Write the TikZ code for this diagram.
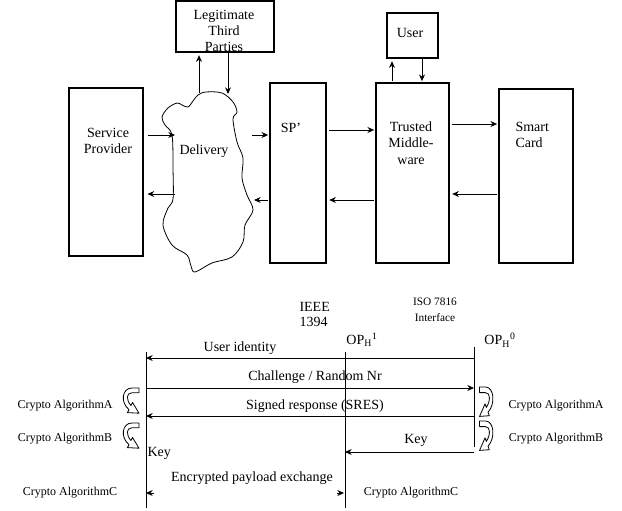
\documentclass[tikz,border=0pt]{standalone}
\usepackage{fontspec}
\setmainfont{Liberation Serif}
\usetikzlibrary{arrows.meta,fit,calc}
\begin{document}
\begin{tikzpicture}[x=0.75pt,y=-0.75pt,
  line width=0.75pt,
  box/.style={draw, line width=0.8pt, inner sep=0pt},
  arr/.style={-{Stealth[length=5pt,width=4.5pt]}, line width=0.7pt},
  lbl/.style={font=\fontsize{10.5}{12}\selectfont, inner sep=0pt, align=center},
  sml/.style={font=\fontsize{9}{11}\selectfont, inner sep=0pt, align=center},
  curvarrow/.pic={\draw[line width=0.6pt, line join=round] (17,0) -- (10,0) .. controls (0,0) and (-2,12) .. (7,18) -- (5.5,20.5) -- (17,21) -- (10.5,12) -- (9,14.6) .. controls (4,10) and (4,4) .. (10,4) -- (17,4) -- cycle;}]
\useasboundingbox (0,0) rectangle (622,511);

% ---------- top: boxes ----------
\node[box, fit={(69,88)(143,256)}] (sp) {};
\node[box, fit={(176,1)(274,52)}] (ltp) {};
\node[box, fit={(270,83)(326,263)}] (spp) {};
\node[box, fit={(376,83)(449,263)}] (tm) {};
\node[box, fit={(387,13)(438,58)}] (user) {};
\node[box, fit={(499,89)(573,263)}] (sc) {};

% delivery cloud
\draw[line width=0.6pt] plot[smooth cycle, tension=0.55] coordinates {
 (198,95) (206,92) (222,93) (233,102) (237,112) (233,119) (237,142) (243,158)
 (242,178) (247,195) (253,210) (245,225) (243,242) (232,257) (212,263) (195,272)
 (191,266) (187,255) (172,245) (163,225) (168,208) (173,199) (173,168) (172,135)
 (165,125) (162,117) (168,108) (177,103) (182,105) (188,107) (193,101)};

% texts
\node[lbl] (spt) at (108,141) {Service\\Provider};
\node[lbl, font=\fontsize{10.5}{12}\selectfont] (ltpt) at (224,31) {Legitimate\\Third\\Parties};
\node[lbl] (delt) at (204,151) {Delivery};
\node[lbl] (sppt) at (291,128) {SP’};
\node[lbl, font=\fontsize{10.5}{12.4}\selectfont] (tmt) at (411,143) {Trusted\\Middle-\\ware};
\node[lbl] (usert) at (410,33) {User};
\node[lbl, align=left, anchor=west] (sct) at (515,135) {Smart\\Card};

% cloud anchor points
\coordinate (dIn) at (175,135);
\coordinate (dOut) at (175,194);
\coordinate (dR1) at (252,135);
\coordinate (dR2) at (254,200);
\coordinate (dT1) at (199,93);
\coordinate (dT2) at (228,94);

% top arrows
\draw[arr, shorten <=3pt] (sp.east |- dIn) -- (dIn);
\draw[arr, shorten >=3pt] (dOut) -- (sp.east |- dOut);
\draw[arr, shorten >=1pt] (dR1) -- (spp.west |- dR1);
\draw[arr, shorten <=1pt] (spp.west |- dR2) -- (dR2);
\draw[arr, shorten >=2pt] (dT1) -- (dT1 |- ltp.south);
\draw[arr] (dT2 |- ltp.south) -- (dT2);
\draw[arr, shorten <=2pt, shorten >=1pt] (spp.east |- 0,130) -- (tm.west |- 0,130);
\draw[arr, shorten <=1pt, shorten >=2pt] (tm.west |- 0,200) -- (spp.east |- 0,200);
\draw[arr, shorten <=1pt, shorten >=2pt] (tm.north -| 392,0) -- (user.south -| 392,0);
\draw[arr, shorten >=1pt] (user.south -| 422,0) -- (tm.north -| 422,0);
\draw[arr, shorten <=2pt, shorten >=1pt] (tm.east |- 0,124) -- (sc.west |- 0,124);
\draw[arr, shorten <=1pt, shorten >=2pt] (sc.west |- 0,194) -- (tm.east |- 0,194);

% ---------- bottom: sequence ----------
\node[lbl, align=left, anchor=west, font=\fontsize{10.5}{11.25}\selectfont] (ieee) at (299,314.5) {IEEE\\1394};
\node[sml, font=\fontsize{8.5}{12}\selectfont] (iso) at (435,310) {ISO 7816\\Interface};
\node[lbl] (op1) at (362,340) {OP\textsubscript{H}\textsuperscript{1}};
\node[lbl] (op0) at (500,340) {OP\textsubscript{H}\textsuperscript{0}};

\coordinate (l1t) at (146,352);
\coordinate (l1b) at (146,508);
\coordinate (l2t) at (345,352);
\coordinate (l2b) at (345,508);
\coordinate (l3t) at (474,347);
\coordinate (l3b) at (474,447);
\draw (l1t) -- (l1b);
\draw (l2t) -- (l2b);
\draw (l3t) -- (l3b);

\draw[arr] (l3t |- 0,358) -- (l1t |- 0,358);
\draw[arr] (l1t |- 0,388) -- (l3t |- 0,388);
\draw[arr] (l3t |- 0,416) -- (l1t |- 0,416);
\draw[arr] (l3t |- 0,452) -- (l2t |- 0,452);
\draw[arr] (154,493) -- (l1t |- 0,493);
\draw[arr] (337,493) -- (344,493);

\node[lbl] (m1) at (240,348) {User identity};
\node[lbl] (m2) at (315,377) {Challenge / Random Nr};
\node[lbl] (m3) at (315,406) {Signed response (SRES)};
\node[lbl] (m4) at (416,440) {Key};
\node[lbl, anchor=west] (m5) at (147,453) {Key};
\node[lbl] (m6) at (252,478) {Encrypted payload exchange};

\node[sml] (cal) at (65,406) {Crypto AlgorithmA};
\node[sml] (cbl) at (65,439) {Crypto AlgorithmB};
\node[sml] (ccl) at (70,493) {Crypto AlgorithmC};
\node[sml] (car) at (556,406) {Crypto AlgorithmA};
\node[sml] (cbr) at (556,439) {Crypto AlgorithmB};
\node[sml] (ccm) at (411,493) {Crypto AlgorithmC};

\pic[yscale=1.2] at (122,388) {curvarrow};
\pic[yscale=1.2] at (122,423) {curvarrow};
\pic[xscale=-0.85, yscale=1.4] at (494,387) {curvarrow};
\pic[xscale=-0.85, yscale=1.4] at (494,421) {curvarrow};
\end{tikzpicture}
\end{document}
